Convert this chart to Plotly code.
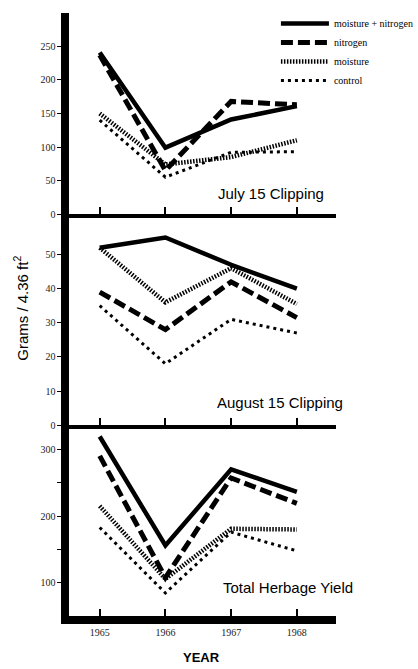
import plotly.graph_objects as go
from plotly.subplots import make_subplots

years = [1965, 1966, 1967, 1968]
series_names = ["moisture + nitrogen", "nitrogen", "moisture", "control"]

july_mn = [241, 99, 141, 161]
july_n = [237, 65, 168, 163]
july_m = [150, 74, 85, 110]
july_c = [140, 55, 92, 93]

aug_mn = [52, 55, 47, 40]
aug_n = [39, 28, 42, 31.5]
aug_m = [52, 36, 46, 35.5]
aug_c = [35, 18, 31, 27]

tot_mn = [319, 156, 270, 236]
tot_n = [290, 108, 257, 219]
tot_m = [215, 106, 181, 180]
tot_c = [183, 85, 176, 148]

panels = [
    (july_mn, july_n, july_m, july_c),
    (aug_mn, aug_n, aug_m, aug_c),
    (tot_mn, tot_n, tot_m, tot_c),
]
panel_titles = ["July 15 Clipping", "August 15 Clipping", "Total Herbage Yield"]

styles = [
    dict(width=4.5, dash="solid"),
    dict(width=5, dash="12px,5px"),
    dict(width=4.5, dash="1.5px,1.5px"),
    dict(width=3, dash="3px,4px"),
]

fig = make_subplots(rows=3, cols=1, shared_xaxes=True)

for r, vals in enumerate(panels, start=1):
    for i, v in enumerate(vals):
        fig.add_trace(go.Scatter(
            x=years, y=v, mode="lines", name=series_names[i],
            line=dict(color="black", **styles[i]),
            showlegend=(r == 1),
        ), row=r, col=1)

H = 669.0
W = 418.0
def dom(top, bot):
    return [1 - bot / H, 1 - top / H]

ydomains = [dom(13, 216), dom(220, 429), dom(433, 622)]
yranges = [[0, 300], [0, 60.7], [50, 330]]
ytickvals = [[0, 50, 100, 150, 200, 250], [0, 10, 20, 30, 40, 50], [100, 200, 300]]
yminor = [None, None, [150, 250]]
xlw = [4, 4, 8]

tickfont = dict(family="Liberation Serif", size=10, color="#222")
for k in range(3):
    ax = "yaxis" if k == 0 else f"yaxis{k+1}"
    xa = "xaxis" if k == 0 else f"xaxis{k+1}"
    fig.layout[ax].update(
        domain=ydomains[k], range=yranges[k], tickmode="array", tickvals=ytickvals[k],
        ticktext=[str(v) for v in ytickvals[k]],
        showgrid=False, zeroline=False, showline=True, linewidth=8, linecolor="black",
        ticks="outside", ticklen=4, tickwidth=1, tickcolor="black", tickfont=tickfont,
    )
    if yminor[k]:
        fig.layout[ax].minor = dict(tickmode="array", tickvals=yminor[k], ticks="outside",
                                    ticklen=4, tickwidth=1, tickcolor="black", showgrid=False)
    fig.layout[xa].update(
        domain=[71 / W, 343 / W], range=[1964.54, 1968.59],
        tickvals=years, ticktext=[str(y) for y in years],
        showticklabels=(k == 2), showgrid=False, zeroline=False,
        showline=True, linewidth=xlw[k], linecolor="black",
        ticks="inside", ticklen=7, tickwidth=2, tickcolor="black", tickfont=tickfont,
    )

annotations = []
title_pos = [(333, 195), (353, 406), (363, 593)]
for t, (x, y) in zip(panel_titles, title_pos):
    annotations.append(dict(text=t, x=x / W, y=1 - y / H, xref="paper", yref="paper",
                            xanchor="right", yanchor="middle", showarrow=False,
                            font=dict(family="Liberation Sans", size=15, color="black")))
annotations.append(dict(text="Grams / 4.36 ft<sup>2</sup>", x=21 / W, y=1 - 311 / H,
                        xref="paper", yref="paper", textangle=-90, showarrow=False,
                        xanchor="center", yanchor="middle",
                        font=dict(family="Liberation Sans", size=15, color="black")))
annotations.append(dict(text="<b>YEAR</b>", x=206 / W, y=1 - 663 / H, xref="paper", yref="paper",
                        showarrow=False, xanchor="center", yanchor="middle",
                        font=dict(family="Liberation Sans", size=13, color="black")))

fig.update_layout(
    width=418, height=669, margin=dict(l=0, r=0, t=0, b=0),
    paper_bgcolor="white", plot_bgcolor="white",
    annotations=annotations,
    legend=dict(x=282 / W, y=1 - 9 / H, xanchor="left", yanchor="top",
                font=dict(family="Liberation Serif", size=10, color="black"),
                bgcolor="rgba(0,0,0,0)", itemwidth=48, tracegroupgap=0),
)

fig.write_html("out.html")
